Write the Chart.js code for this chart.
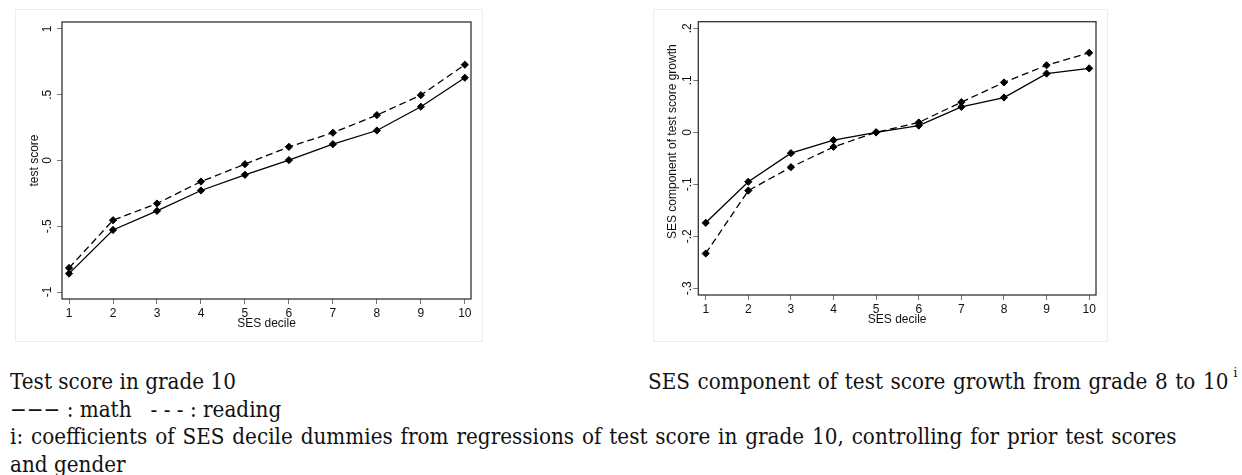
<!DOCTYPE html>
<html>
<head>
<meta charset="utf-8">
<script src="https://cdn.jsdelivr.net/npm/chart.js@4/dist/chart.umd.min.js"></script>
<style>
  html, body { margin: 0; padding: 0; background: #fff; }
  body { position: relative; width: 1242px; height: 475px; overflow: hidden; }
  .panel { position: absolute; box-sizing: border-box; border: 1px solid #e9eef2; }
  canvas { position: absolute; }
  .line {
    position: absolute;
    font-family: "DejaVu Serif", serif; font-size: 20px; line-height: 24px;
    color: #111; white-space: nowrap;
    transform: scaleY(1.1); transform-origin: 0 19px;
  }
  .line sup { font-size: 12px; line-height: 0; position: relative; top: -3px; margin-left: 5px; }
</style>
</head>
<body>
<div class="panel" style="left:15px;top:9px;width:468px;height:333px"></div>
<div class="panel" style="left:653px;top:9px;width:455px;height:333px"></div>
<canvas id="scoreChart" width="468" height="333" style="left:15px;top:9px"></canvas>
<canvas id="growthChart" width="455" height="333" style="left:653px;top:9px"></canvas>

<div class="line" style="left:10px;top:370px">Test score in grade 10</div>
<div class="line" style="left:648px;top:370px;word-spacing:1.2px">SES component of test score growth from grade 8 to 10<sup>i</sup></div>
<div class="line" style="left:10px;top:397.5px">−−− : math&nbsp;&nbsp;&nbsp;- - - : reading</div>
<div class="line" style="left:10px;top:425px;word-spacing:1.5px">i: coefficients of SES decile dummies from regressions of test score in grade 10, controlling for prior test scores</div>
<div class="line" style="left:10px;top:452.5px">and gender</div>

<script>
// SES deciles on the x axis
const deciles = [1, 2, 3, 4, 5, 6, 7, 8, 9, 10];

// grade 10 test score by decile
const mathScore    = [-0.86, -0.528, -0.383, -0.228, -0.109, 0.003, 0.124, 0.228, 0.409, 0.629];
const readingScore = [-0.817, -0.454, -0.327, -0.160, -0.028, 0.104, 0.211, 0.345, 0.497, 0.728];

// SES component of growth, grade 8 -> 10
const mathGrowth    = [-0.174, -0.095, -0.040, -0.015, 0.000, 0.013, 0.049, 0.067, 0.113, 0.123];
const readingGrowth = [-0.233, -0.112, -0.067, -0.028, 0.000, 0.019, 0.058, 0.096, 0.129, 0.153];

// y tick values and their labels
const scoreTicks = [-1, -0.5, 0, 0.5, 1];
const scoreTickLabels = ['-1', '-.5', '0', '.5', '1'];
const growthTicks = [-0.3, -0.2, -0.1, 0, 0.1, 0.2];
const growthTickLabels = ['-.3', '-.2', '-.1', '0', '.1', '.2'];

const sansFont = 'Liberation Sans, Arial, sans-serif';
const ink = '#111';

function points(values) {
  return deciles.map((d, i) => ({ x: d, y: values[i] }));
}

function series(values, dashed) {
  return {
    data: points(values),
    borderColor: '#000',
    borderWidth: 1.3,
    borderDash: dashed ? [7, 4] : [],
    pointStyle: 'rectRot',
    pointRadius: 3.6,
    pointBorderWidth: 1,
    pointBackgroundColor: '#000',
    pointBorderColor: '#000',
    fill: false,
    tension: 0
  };
}

// box round the plot region
const frame = {
  id: 'frame',
  beforeDatasetsDraw(chart) {
    const { ctx, chartArea: a } = chart;
    ctx.save();
    ctx.strokeStyle = '#333';
    ctx.lineWidth = 1.3;
    ctx.strokeRect(a.left, a.top, a.right - a.left, a.bottom - a.top);
    ctx.restore();
  }
};

function makeChart(id, cfg) {
  return new Chart(document.getElementById(id), {
    type: 'line',
    data: { datasets: [series(cfg.math, false), series(cfg.reading, true)] },
    options: {
      responsive: false,
      animation: false,
      devicePixelRatio: 1,
      layout: { padding: { top: cfg.top, right: 12, left: 0, bottom: 0 } },
      plugins: { legend: { display: false }, tooltip: { enabled: false } },
      scales: {
        x: {
          type: 'linear',
          min: cfg.xMin,
          max: cfg.xMax,
          afterBuildTicks: (s) => { s.ticks = deciles.map(v => ({ value: v })); },
          afterFit: (s) => { s.height = cfg.xHeight; },
          ticks: {
            font: { family: sansFont, size: 12 },
            color: ink,
            padding: 2,
            maxRotation: 0,
            autoSkip: false,
            callback: (v) => String(v)
          },
          grid: { drawOnChartArea: false, drawTicks: true, tickLength: 5, color: '#777' },
          border: { display: false },
          title: {
            display: true,
            text: 'SES decile',
            font: { family: sansFont, size: 12 },
            color: ink,
            padding: { top: 0, bottom: cfg.xTitlePad }
          }
        },
        y: {
          type: 'linear',
          min: cfg.yMin,
          max: cfg.yMax,
          afterBuildTicks: (s) => { s.ticks = cfg.yTicks.map(v => ({ value: v })); },
          afterFit: (s) => { s.width = cfg.yWidth; },
          ticks: {
            font: { family: sansFont, size: 12 },
            color: ink,
            minRotation: 90,
            maxRotation: 90,
            crossAlign: 'center',
            padding: cfg.yTickPad,
            autoSkip: false,
            callback: (v) => {
              const i = cfg.yTicks.findIndex(t => Math.abs(t - v) < 1e-9);
              return i >= 0 ? cfg.yLabels[i] : '';
            }
          },
          grid: { drawOnChartArea: false, drawTicks: true, tickLength: 5, color: '#777' },
          border: { display: false },
          title: {
            display: true,
            text: cfg.yTitle,
            font: { family: sansFont, size: 12 },
            color: ink,
            padding: { top: cfg.yTitlePad, bottom: 0 }
          }
        }
      }
    },
    plugins: [frame]
  });
}

makeChart('scoreChart', {
  math: mathScore,
  reading: readingScore,
  xMin: 0.84, xMax: 10.14,
  yMin: -1.053, yMax: 1.053,
  yTicks: scoreTicks, yLabels: scoreTickLabels,
  yTitle: 'test score',
  top: 13, xHeight: 43, yWidth: 47,
  xTitlePad: 10.8, yTickPad: 2.3, yTitlePad: 12.8
});

makeChart('growthChart', {
  math: mathGrowth,
  reading: readingGrowth,
  xMin: 0.826, xMax: 10.16,
  yMin: -0.3128, yMax: 0.2128,
  yTicks: growthTicks, yLabels: growthTickLabels,
  yTitle: '          SES component of test score growth',
  top: 12.7, xHeight: 47, yWidth: 45.3,
  xTitlePad: 14.8, yTickPad: -1.4, yTitlePad: 12.1
});
</script>
</body>
</html>
